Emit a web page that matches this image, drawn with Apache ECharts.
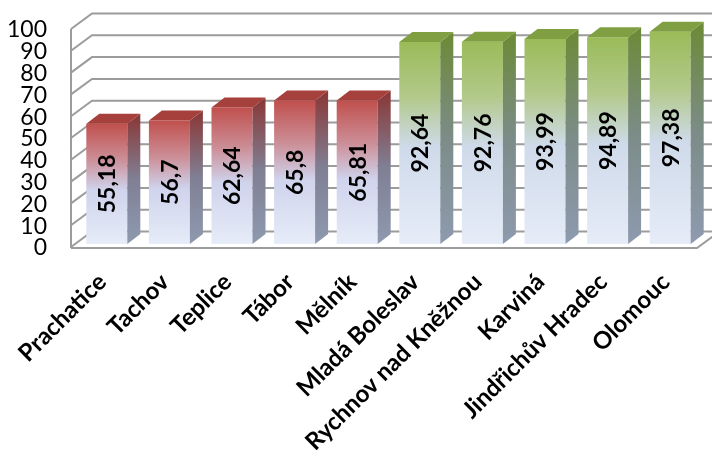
<!DOCTYPE html>
<html>
<head>
<meta charset="utf-8">
<script src="https://cdn.jsdelivr.net/npm/echarts@6/dist/echarts.min.js"></script>
<style>
  html, body { margin: 0; padding: 0; background: #ffffff; }
  #chart { width: 712px; height: 451px; }
</style>
</head>
<body>
<div id="chart"></div>
<script>
// Categories (towns) and their values
const categories = ['Prachatice', 'Tachov', 'Teplice', 'Tábor', 'Mělník',
  'Mladá Boleslav', 'Rychnov nad Kněžnou', 'Karviná', 'Jindřichův Hradec', 'Olomouc'];
const values = [55.18, 56.7, 62.64, 65.8, 65.81, 92.64, 92.76, 93.99, 94.89, 97.38];
// Colour group of each bar
const tones = ['red', 'red', 'red', 'red', 'red', 'green', 'green', 'green', 'green', 'green'];
// Value axis ticks and their labels
const yTicks = [0, 10, 20, 30, 40, 50, 60, 70, 80, 90, 100];
const yTickLabels = ['0', '10', '20', '30', '40', '50', '60', '70', '80', '90', '100'];

// Shading for each colour group: front face, side face, top face
const palette = {
  red: {
    front: [[0, '#c0504d'], [0.3, '#cc8f98'], [0.55, '#cfd3ec'], [1, '#e6ecf8']],
    side: [[0, '#8a3634'], [0.5, '#807f94'], [1, '#8e9aaf']],
    top: '#a5403d'
  },
  green: {
    front: [[0, '#9bbb59'], [0.27, '#b2c98a'], [0.52, '#cfdaea'], [1, '#e6ecf8']],
    side: [[0, '#6c8a35'], [0.5, '#7c8c88'], [1, '#8e9aaf']],
    top: '#7f9f42'
  }
};

// 3D projection of the chart box (pixels)
const WALL_DX = 21, WALL_DY = -15.5;       // depth of the walls
const BAR_SHIFT_X = 4.5, BAR_SHIFT_Y = -3; // bars sit a little behind the front plane
const BAR_DX = 13, BAR_DY = -10;           // depth of each bar
const BAR_RATIO = 0.655;                   // bar width / category band
const GRID_COLOR = '#9c9c9c';
const FONT = 'Lato, "Open Sans", sans-serif';

function gradient(stops) {
  return new echarts.graphic.LinearGradient(0, 0, 0, 1,
    stops.map(s => ({ offset: s[0], color: s[1] })));
}

// Walls, floor, gridlines and value-axis labels
function renderFrame(params, api) {
  const cs = params.coordSys;
  const v = api.value(1);
  const y = api.coord([0, v])[1];
  const left = cs.x, right = cs.x + cs.width;
  const lineStyle = { stroke: GRID_COLOR, lineWidth: 2, fill: null };
  const children = [
    { type: 'polyline', shape: { points: [[left, y], [left + WALL_DX, y + WALL_DY], [right + WALL_DX + 2, y + WALL_DY]] }, style: lineStyle },
    { type: 'text', x: left - 24, y: y + 1,
      style: { text: yTickLabels[params.dataIndex], fill: '#000', font: '23px ' + FONT,
        align: 'right', verticalAlign: 'middle' } }
  ];
  if (v === 0) {
    const top = api.coord([0, yTicks[yTicks.length - 1]])[1];
    children.push(
      { type: 'line', shape: { x1: left, y1: top, x2: left, y2: y + 1 }, style: lineStyle },
      { type: 'polyline', shape: { points: [[left, y + 1], [right, y + 1], [right + WALL_DX, y + 1 + WALL_DY]] }, style: lineStyle }
    );
  }
  return { type: 'group', children };
}

// 3D bars with the value written along the front face
function renderBar(params, api) {
  const idx = api.value(0);
  const val = api.value(1);
  const band = api.size([1, 0])[0];
  const w = band * BAR_RATIO;
  const topPt = api.coord([idx, val]);
  const basePt = api.coord([idx, 0]);
  const xl = topPt[0] - w / 2 + BAR_SHIFT_X;
  const xr = xl + w;
  const yt = topPt[1] + BAR_SHIFT_Y;
  const yb = basePt[1] + BAR_SHIFT_Y;
  const pal = palette[tones[idx]];
  const label = String(values[idx]).replace('.', ',');
  return {
    type: 'group',
    children: [
      { type: 'rect', shape: { x: xl, y: yt, width: w, height: yb - yt }, style: { fill: gradient(pal.front) } },
      { type: 'polygon', shape: { points: [[xr, yt], [xr + BAR_DX, yt + BAR_DY], [xr + BAR_DX, yb + BAR_DY], [xr, yb]] },
        style: { fill: gradient(pal.side) } },
      { type: 'polygon', shape: { points: [[xl, yt], [xl + BAR_DX, yt + BAR_DY], [xr + BAR_DX, yt + BAR_DY], [xr, yt]] },
        style: { fill: pal.top } },
      { type: 'text', x: (xl + xr) / 2 + 1, y: (yt + yb) / 2, rotation: Math.PI / 2,
        style: { text: label, fill: '#000', font: 'bold 23px ' + FONT,
          align: 'center', verticalAlign: 'middle' } }
    ]
  };
}

const chart = echarts.init(document.getElementById('chart'), null, { renderer: 'canvas' });
chart.setOption({
  animation: false,
  backgroundColor: '#ffffff',
  grid: { left: 71, right: 15, top: 29, bottom: 204, containLabel: false, outerBoundsMode: 'none' },
  xAxis: {
    type: 'category',
    data: categories,
    axisLine: { show: false },
    axisTick: { show: false },
    splitLine: { show: false },
    axisLabel: {
      interval: 0, rotate: 45, margin: 31,
      color: '#000', fontSize: 24, fontWeight: 'bold', fontFamily: FONT
    }
  },
  yAxis: {
    type: 'value', min: 0, max: 100, interval: 10,
    axisLine: { show: false },
    axisTick: { show: false },
    splitLine: { show: false },
    axisLabel: { show: false }
  },
  series: [
    {
      type: 'custom', name: 'frame', z: 1, silent: true,
      renderItem: renderFrame,
      encode: { x: 0, y: 1 },
      data: yTicks.map(v => [0, v])
    },
    {
      type: 'custom', name: 'bars', z: 2,
      renderItem: renderBar,
      encode: { x: 0, y: 1 },
      data: values.map((v, i) => [i, v])
    }
  ]
});
</script>
</body>
</html>
